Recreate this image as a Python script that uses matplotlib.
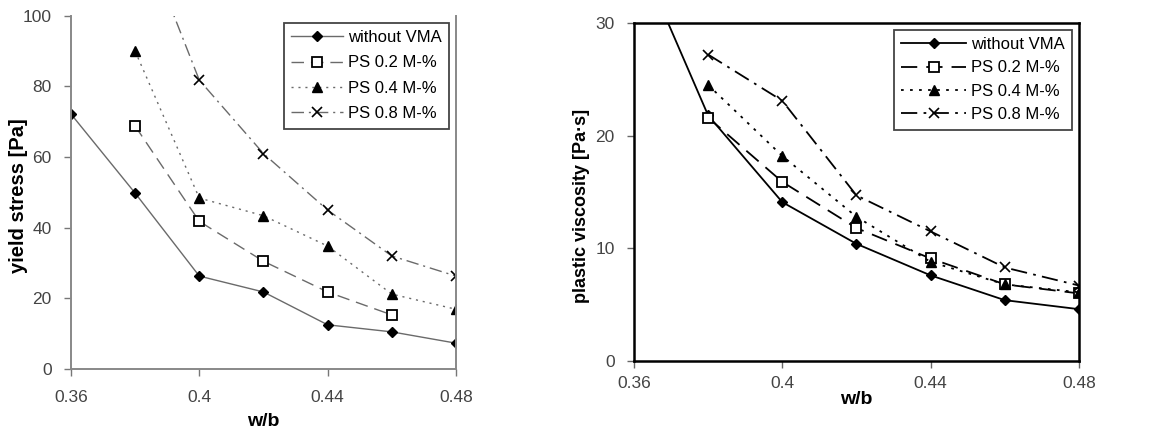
import matplotlib.pyplot as plt

plt.rcParams['font.family'] = ['Liberation Sans', 'DejaVu Sans']

labels = ["without VMA", "PS 0.2 M-%", "PS 0.4 M-%", "PS 0.8 M-%"]

# yield stress [Pa]
ys_wb = {
    "without VMA": [0.36, 0.38, 0.40, 0.42, 0.44, 0.46, 0.48],
    "PS 0.2 M-%": [0.38, 0.40, 0.42, 0.44, 0.46],
    "PS 0.4 M-%": [0.38, 0.40, 0.42, 0.44, 0.46, 0.48],
    "PS 0.8 M-%": [0.38, 0.40, 0.42, 0.44, 0.46, 0.48],
}
ys_val = {
    "without VMA": [72.2, 49.8, 26.3, 21.8, 12.5, 10.5, 7.3],
    "PS 0.2 M-%": [68.8, 41.8, 30.5, 21.8, 15.3],
    "PS 0.4 M-%": [90.0, 48.4, 43.4, 34.8, 21.2, 16.9],
    "PS 0.8 M-%": [128.0, 81.8, 61.0, 45.0, 32.0, 26.3],
}

# plastic viscosity [Pa·s]
pv_wb = {
    "without VMA": [0.36, 0.38, 0.40, 0.42, 0.44, 0.46, 0.48],
    "PS 0.2 M-%": [0.38, 0.40, 0.42, 0.44, 0.46, 0.48],
    "PS 0.4 M-%": [0.38, 0.40, 0.42, 0.44, 0.46, 0.48],
    "PS 0.8 M-%": [0.38, 0.40, 0.42, 0.44, 0.46, 0.48],
}
pv_val = {
    "without VMA": [37.0, 21.8, 14.1, 10.4, 7.6, 5.4, 4.6],
    "PS 0.2 M-%": [21.6, 15.9, 11.8, 9.1, 6.8, 6.0],
    "PS 0.4 M-%": [24.5, 18.2, 12.8, 8.8, 6.8, 6.1],
    "PS 0.8 M-%": [27.2, 23.1, 14.7, 11.5, 8.3, 6.7],
}

styles = {
    "without VMA": dict(ls="-", marker="D", ms=5.5, mfc="black", mec="black"),
    "PS 0.2 M-%": dict(ls=(0, (9, 5)), marker="s", ms=7, mfc="white", mec="black", mew=1.3),
    "PS 0.4 M-%": dict(ls=(0, (1.5, 3.5)), marker="^", ms=7.5, mfc="black", mec="black"),
    "PS 0.8 M-%": dict(ls=(0, (9, 3.5, 1.5, 3.5)), marker="x", ms=7.5, mec="black", mew=1.2),
}

fig = plt.figure(figsize=(11.52, 4.29), dpi=100)
ax1 = fig.add_axes([0.0616, 0.140, 0.3342, 0.823])
ax2 = fig.add_axes([0.5503, 0.1585, 0.3863, 0.7879])


def draw(ax, xs, vals, ylim, yticks, color, lw, xpad, xlabpad, hlen, lspace):
    for lab in labels:
        ax.plot(xs[lab], vals[lab], color=color, lw=lw, label=lab, **styles[lab])
    ax.set_xlim(0.36, 0.48)
    ax.set_ylim(*ylim)
    ax.set_xticks([0.36, 0.40, 0.44, 0.48])
    ax.set_xticklabels(["0.36", "0.4", "0.44", "0.48"])
    ax.set_yticks(yticks)
    ax.tick_params(labelsize=12.5, labelcolor="#444444", length=5, width=1)
    ax.tick_params(axis="x", pad=xpad)
    ax.tick_params(axis="y", pad=9)
    ax.set_xlabel("w/b", fontsize=14, fontweight="bold", labelpad=xlabpad)
    leg = ax.legend(loc="upper right", fontsize=12, handlelength=hlen,
                    fancybox=False, edgecolor="#444444", framealpha=1,
                    borderpad=0.45, labelspacing=lspace, handletextpad=0.3,
                    borderaxespad=0.4)
    leg.get_frame().set_linewidth(1.3)


draw(ax1, ys_wb, ys_val, (0, 100), [0, 20, 40, 60, 80, 100], "#6a6a6a", 1.0,
     10, 6, 3.1, 0.62)
ax1.set_ylabel("yield stress [Pa]", fontsize=14.5, fontweight="bold")
ax1.yaxis.set_label_coords(-0.112, 0.49)
ax1.spines["top"].set_visible(False)
for s in ["left", "bottom", "right"]:
    ax1.spines[s].set_color("#888888")
    ax1.spines[s].set_linewidth(1.4)
ax1.tick_params(color="#777777")

draw(ax2, pv_wb, pv_val, (0, 30), [0, 10, 20, 30], "black", 1.3,
     6, 0, 3.9, 0.5)
ax2.set_ylabel("plastic viscosity [Pa·s]", fontsize=13, fontweight="bold")
ax2.yaxis.set_label_coords(-0.099, 0.46)
for s in ax2.spines.values():
    s.set_linewidth(1.8)
ax2.tick_params(color="#666666")

fig.savefig("out.png", dpi=100)
